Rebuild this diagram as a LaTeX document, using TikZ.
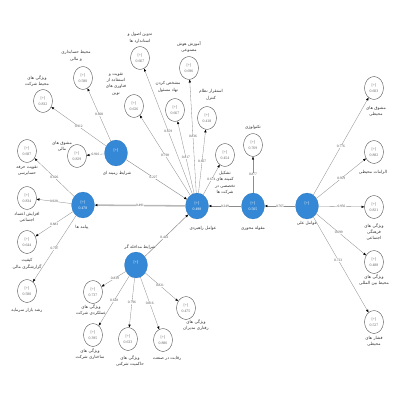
\documentclass[tikz,border=0pt]{standalone}
\usepackage{fontspec}
\setmainfont{Liberation Serif}
\newfontfamily\farsi[Script=Arabic]{DejaVu Sans}
\TeXXeTstate=1
\usetikzlibrary{arrows.meta, shapes.geometric}
\definecolor{lvblue}{RGB}{52,136,214}
\newcommand{\fa}[1]{\beginR #1\endR}

\begin{document}
\begin{tikzpicture}[x=0.5mm, y=-0.5mm,
        latent/.style={ellipse, fill=lvblue, draw=lvblue!85!black, line width=0.3pt, minimum width=11.5mm, minimum height=13mm, inner sep=0pt, align=center, text=white, font=\fontsize{5.5}{8}\selectfont},
        ind/.style={ellipse, draw=black!75, fill=white, line width=0.5pt, minimum width=9.5mm, minimum height=11.5mm, inner sep=0pt, align=center, text=black!60, font=\fontsize{5.5}{8}\selectfont},
        txt/.style={align=center, inner sep=0pt, text=black!80, font=\farsi\fontsize{6}{9}\selectfont},
        line/.style={draw=black!45, line width=0.45pt},
        arr/.style={line, -{Triangle[length=1.4mm, width=1.1mm, color=black]}},
        lbl/.style={fill=white, inner sep=0.6pt, text=black!70, font=\fontsize{5}{6}\selectfont}
    ]
        \useasboundingbox (0,0) rectangle (400,400);
        % -- latent variables (blue) --
        \node[latent] (zamine)    at (116,153) {[+]\\ \phantom{0.000}};
        \node[latent] (payamad)   at (83,205)  {[+]\\0.478};
        \node[latent] (rahbordi)  at (197,206) {[+]\\0.498};
        \node[latent] (mehvari)   at (253,206) {[+]\\0.505};
        \node[latent] (elli)      at (307,206) {[+]\\ \phantom{0.000}};
        \node[latent] (modakhele) at (136,265) {[+]\\ \phantom{0.000}};
        \node[txt] (t-zamine)    at (117,173) {\fa{شرایط زمینه ای}};
        \node[txt] (t-payamad)   at (82,227)  {\fa{پیامد ها}};
        \node[txt] (t-rahbordi)  at (203,228) {\fa{عوامل راهبردی}};
        \node[txt] (t-mehvari)   at (253,228) {\fa{مقوله محوری}};
        \node[txt] (t-elli)      at (307,223) {\fa{عوامل علی}};
        \node[txt] (t-modakhele) at (140,247) {\fa{شرایط مداخله گر}};

        % -- contextual conditions --
        \node[ind] (hesabdari) at (83,78)  {[+]\\0.580};
        \node[ind] (mohitsh)   at (43,101) {[+]\\0.832};
        \node[ind] (mashmali)  at (77,156) {[+]\\0.829};
        \node[txt] (t-hesabdari) at (76,56)  {\fa{محیط حسابداری}\\\fa{و مالی}};
        \node[txt] (t-mohitsh)   at (37,81)  {\fa{ویژگی های}\\\fa{محیط شرکت}};
        \node[txt] (t-mashmali)  at (62,146) {\fa{مشوق های}\\\fa{مالی}};

        % -- strategic factors --
        \node[ind] (tadvin)   at (140,58)  {[+]\\0.667};
        \node[ind] (fanavari) at (134,106) {[+]\\0.626};
        \node[ind] (amoozesh) at (189,68)  {[+]\\0.696};
        \node[ind] (nahad)    at (175,110) {[+]\\0.667};
        \node[ind] (kontrol)  at (207,118) {[+]\\0.418};
        \node[ind] (komite)   at (225,155) {[+]\\0.454};
        \node[txt] (t-tadvin)   at (140,38)  {\fa{تدوین اصول و}\\\fa{استاندارد ها}};
        \node[txt] (t-fanavari) at (116,84)  {\fa{تقویت و}\\\fa{استفاده از}\\\fa{فناوری های}\\\fa{نوین}};
        \node[txt] (t-amoozesh) at (189,47)  {\fa{آموزش هوش}\\\fa{مصنوعی}};
        \node[txt] (t-nahad)    at (168,87)  {\fa{مشخص کردن}\\\fa{نهاد مسئول}};
        \node[txt] (t-kontrol)  at (211,95)  {\fa{استقرار نظام}\\\fa{کنترل}};
        \node[txt] (t-komite)   at (225,183) {\fa{تشکیل}\\\fa{کمیته های}\\\fa{تخصصی در}\\\fa{شرکت ها}};

        % -- core category --
        \node[ind] (teknoloji) at (253,145) {[+]\\0.769};
        \node[txt] (t-teknoloji) at (253,127) {\fa{تکنولوژی}};

        % -- causal factors --
        \node[ind] (mashmohit)  at (374,88)  {[+]\\0.603};
        \node[ind] (elzamat)    at (374,152) {[+]\\0.882};
        \node[ind] (farhangi)   at (374,207) {[+]\\0.821};
        \node[ind] (beynolmelal) at (374,262) {[+]\\0.488};
        \node[ind] (feshar)     at (374,322) {[+]\\0.527};
        \node[txt] (t-mashmohit)   at (376,111) {\fa{مشوق های}\\\fa{محیطی}};
        \node[txt] (t-elzamat)     at (373,172) {\fa{الزامات محیطی}};
        \node[txt] (t-farhangi)    at (374,232) {\fa{ویژگی های}\\\fa{فرهنگی}\\\fa{اجتماعی}};
        \node[txt] (t-beynolmelal) at (374,280) {\fa{ویژگی های}\\\fa{محیط بین المللی}};
        \node[txt] (t-feshar)      at (374,341) {\fa{فشار های}\\\fa{محیطی}};

        % -- consequences --
        \node[ind] (herfe)   at (27,151) {[+]\\0.687};
        \node[ind] (etemad)  at (27,198) {[+]\\0.834};
        \node[ind] (keyfiat) at (27,242) {[+]\\0.644};
        \node[ind] (bazar)   at (27,291) {[+]\\0.580};
        \node[txt] (t-herfe)   at (27,171) {\fa{تقویت حرفه}\\\fa{حسابرسی}};
        \node[txt] (t-etemad)  at (27,217) {\fa{افزایش اعتماد}\\\fa{اجتماعی}};
        \node[txt] (t-keyfiat) at (27,264) {\fa{کیفیت}\\\fa{گزارشگری مالی}};
        \node[txt] (t-bazar)   at (27,310) {\fa{رشد بازار سرمایه}};

        % -- intervening conditions --
        \node[ind] (amalkardi) at (93,292)  {[+]\\0.737};
        \node[ind] (sakhtari)  at (93,335)  {[+]\\0.395};
        \node[ind] (hakemiat)  at (128,339) {[+]\\0.633};
        \node[ind] (reghabat)  at (163,340) {[+]\\0.886};
        \node[ind] (raftari)   at (186,308) {[+]\\0.475};
        \node[txt] (t-amalkardi) at (91,310)  {\fa{ویژگی های}\\\fa{عملکردی شرکت}};
        \node[txt] (t-sakhtari)  at (90,354)  {\fa{ویژگی های}\\\fa{ساختاری شرکت}};
        \node[txt] (t-hakemiat)  at (130,361) {\fa{ویژگی های}\\\fa{حاکمیت شرکتی}};
        \node[txt] (t-reghabat)  at (167,358) {\fa{رقابت در صنعت}};
        \node[txt] (t-raftari)   at (196,325) {\fa{ویژگی های}\\\fa{رفتاری مدیران}};

        % structural paths
        \draw[arr, line width=0.6pt]              (zamine)    -- node[lbl, pos=0.45] {0.227} (rahbordi);
        \draw[arr, line width=0.7pt]              (modakhele) -- node[lbl, pos=0.45] {0.441} (rahbordi);
        \draw[arr, line width=0.8pt]              (mehvari)   -- node[lbl] {0.249} (rahbordi);
        \draw[arr, line width=1.2pt]              (elli)      -- node[lbl] {0.765} (mehvari);
        \draw[arr, line width=2.2pt, draw=black!28] (rahbordi) -- node[lbl] {0.491} (payamad);

        % loadings
        \draw[arr] (zamine) -- node[lbl] {0.600} (hesabdari);
        \draw[arr] (zamine) -- node[lbl] {0.912} (mohitsh);
        \draw[arr] (zamine) -- node[lbl] {0.916} (mashmali);

        \draw[arr] (rahbordi) -- node[lbl] {0.659} (tadvin);
        \draw[arr] (rahbordi) -- node[lbl] {0.798} (fanavari);
        \draw[arr] (rahbordi) -- node[lbl] {0.836} (amoozesh);
        \draw[arr] (rahbordi) -- node[lbl] {0.817} (nahad);
        \draw[arr] (rahbordi) -- node[lbl] {0.667} (kontrol);
        \draw[arr] (rahbordi) -- node[lbl] {0.674} (komite);

        \draw[arr] (mehvari) -- node[lbl] {0.877} (teknoloji);

        \draw[arr] (elli) -- node[lbl] {0.776} (mashmohit);
        \draw[arr] (elli) -- node[lbl] {0.959} (elzamat);
        \draw[arr] (elli) -- node[lbl] {0.956} (farhangi);
        \draw[arr] (elli) -- node[lbl, pos=0.45] {0.699} (beynolmelal);
        \draw[arr] (elli) -- node[lbl, pos=0.45] {0.723} (feshar);

        \draw[arr] (payamad) -- node[lbl] {0.826} (herfe);
        \draw[arr] (payamad) -- node[lbl] {0.928} (etemad);
        \draw[arr] (payamad) -- node[lbl] {0.883} (keyfiat);
        \draw[arr] (payamad) -- node[lbl] {0.707} (bazar);

        \draw[arr] (modakhele) -- node[lbl, pos=0.45] {0.839} (amalkardi);
        \draw[arr] (modakhele) -- node[lbl] {0.628} (sakhtari);
        \draw[arr] (modakhele) -- node[lbl] {0.796} (hakemiat);
        \draw[arr] (modakhele) -- node[lbl] {0.816} (reghabat);
        \draw[arr] (modakhele) -- node[lbl, pos=0.45] {0.821} (raftari);
    \end{tikzpicture}
\end{document}
